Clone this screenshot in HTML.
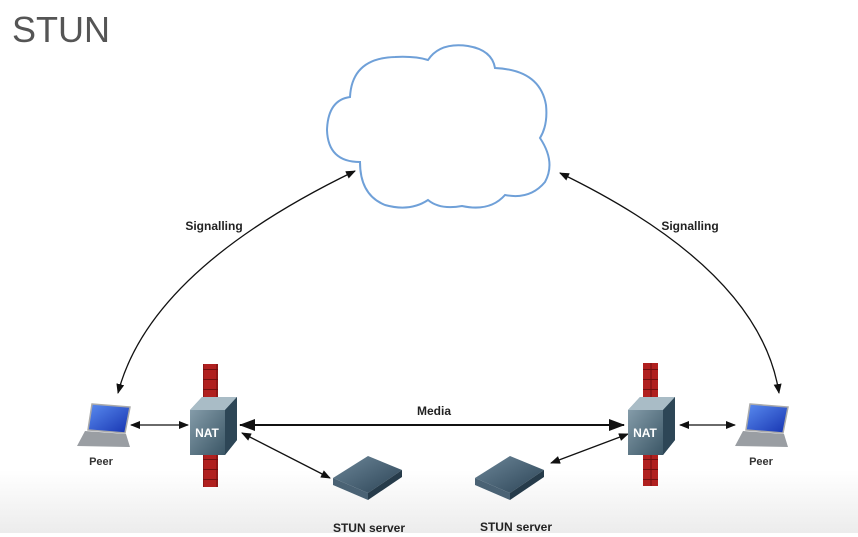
<!DOCTYPE html>
<html><head><meta charset="utf-8"><style>
html,body{margin:0;padding:0;background:#fff;}
body{width:858px;height:537px;overflow:hidden;position:relative;font-family:"Liberation Sans",sans-serif;}
</style></head><body>
<svg width="858" height="537" viewBox="0 0 858 537" xmlns="http://www.w3.org/2000/svg" style="position:absolute;left:0;top:0">
<defs>
<linearGradient id="bg" x1="0" y1="0" x2="0" y2="1">
<stop offset="0" stop-color="#fff"/><stop offset="1" stop-color="#ececec"/></linearGradient>
<linearGradient id="nat" x1="0" y1="0" x2="1" y2="1">
<stop offset="0" stop-color="#8fa6b3"/><stop offset="1" stop-color="#2e4a5a"/></linearGradient>
<linearGradient id="srv" x1="0" y1="0" x2="1" y2="1">
<stop offset="0" stop-color="#6d8799"/><stop offset="1" stop-color="#2c4456"/></linearGradient>
<linearGradient id="scr" x1="0" y1="0" x2="1" y2="1">
<stop offset="0" stop-color="#5a8cf0"/><stop offset="1" stop-color="#1633b0"/></linearGradient>
<pattern id="brick" width="14" height="10" patternUnits="userSpaceOnUse">
<rect width="14" height="10" fill="#b0201f"/>
<path d="M0 9.5H14M7 0V9.5" stroke="#6e1010" stroke-width="1"/></pattern>
<marker id="a" markerWidth="10" markerHeight="8" refX="9" refY="4" orient="auto-start-reverse" markerUnits="userSpaceOnUse">
<path d="M0 0L10 4L0 8z" fill="#111"/></marker>
<marker id="b" markerWidth="16" markerHeight="12" refX="15" refY="6" orient="auto-start-reverse" markerUnits="userSpaceOnUse">
<path d="M0 0L16 6L0 12z" fill="#111"/></marker>
</defs>
<rect x="0" y="470" width="858" height="63" fill="url(#bg)"/>
<text x="12" y="42" font-size="36" fill="#555" font-family="Liberation Sans, sans-serif">STUN</text>
<path d="M360,162 Q328,162 327,130 Q328,100 350,97 Q352,58 395,57 Q415,56 428,60 Q440,42 468,46 Q492,50 495,68 Q540,70 546,105 Q548,125 540,138 Q556,162 545,182 Q530,200 505,195 Q490,212 462,206 Q440,210 428,200 Q410,212 385,205 Q360,195 360,162 Z" fill="#fff" stroke="#6fa0d8" stroke-width="2"/>
<path d="M355,171 Q150,270 118,393" fill="none" stroke="#111" stroke-width="1.3" marker-start="url(#a)" marker-end="url(#a)"/>
<path d="M560,173 Q760,270 779,393" fill="none" stroke="#111" stroke-width="1.3" marker-start="url(#a)" marker-end="url(#a)"/>
<text x="214" y="230" font-size="12" font-weight="bold" text-anchor="middle" fill="#222">Signalling</text>
<text x="690" y="230" font-size="12" font-weight="bold" text-anchor="middle" fill="#222">Signalling</text>
<rect x="203" y="364" width="15" height="123" fill="url(#brick)"/>
<rect x="643" y="363" width="15" height="123" fill="url(#brick)"/>
<line x1="240" y1="425" x2="624" y2="425" stroke="#111" stroke-width="2" marker-start="url(#b)" marker-end="url(#b)"/>
<text x="434" y="415" font-size="12" font-weight="bold" text-anchor="middle" fill="#222">Media</text>
<line x1="131" y1="425" x2="188" y2="425" stroke="#111" stroke-width="1.3" marker-start="url(#a)" marker-end="url(#a)"/>
<line x1="680" y1="425" x2="735" y2="425" stroke="#111" stroke-width="1.3" marker-start="url(#a)" marker-end="url(#a)"/>
<line x1="242" y1="433" x2="330" y2="478" stroke="#111" stroke-width="1.3" marker-start="url(#a)" marker-end="url(#a)"/>
<line x1="551" y1="463" x2="628" y2="434" stroke="#111" stroke-width="1.3" marker-start="url(#a)" marker-end="url(#a)"/>
<g>
<path d="M190,410 L202,397 L237,397 L237,440 L225,455 L190,455 Z" fill="url(#nat)"/>
<path d="M190,410 L202,397 L237,397 L225,410 Z" fill="#a9bcc6"/>
<path d="M225,410 L237,397 L237,440 L225,455 Z" fill="#2d4656"/>
<text x="207" y="437" font-size="12" font-weight="bold" fill="#fff" text-anchor="middle">NAT</text>
</g>
<g transform="translate(438,0)">
<path d="M190,410 L202,397 L237,397 L237,440 L225,455 L190,455 Z" fill="url(#nat)"/>
<path d="M190,410 L202,397 L237,397 L225,410 Z" fill="#a9bcc6"/>
<path d="M225,410 L237,397 L237,440 L225,455 Z" fill="#2d4656"/>
<text x="207" y="437" font-size="12" font-weight="bold" fill="#fff" text-anchor="middle">NAT</text>
</g>
<g>
<path d="M92,404 L130,407 L125,433 L88,430 Z" fill="url(#scr)" stroke="#aaa" stroke-width="1.5"/>
<path d="M85,431 L126,434 L130,447 L77,446 Z" fill="#9a9ea3"/>
<text x="101" y="465" font-size="11" font-weight="bold" text-anchor="middle" fill="#333">Peer</text>
</g>
<g transform="translate(658,0)">
<path d="M92,404 L130,407 L125,433 L88,430 Z" fill="url(#scr)" stroke="#aaa" stroke-width="1.5"/>
<path d="M85,431 L126,434 L130,447 L77,446 Z" fill="#9a9ea3"/>
<text x="103" y="465" font-size="11" font-weight="bold" text-anchor="middle" fill="#333">Peer</text>
</g>
<g>
<path d="M333,478 L368,456 L402,470 L368,493 Z" fill="url(#srv)"/>
<path d="M333,478 L368,493 L368,500 L333,485 Z" fill="#4a6274"/>
<path d="M368,493 L402,470 L402,477 L368,500 Z" fill="#263b4a"/>
</g>
<g transform="translate(142,0)">
<path d="M333,478 L368,456 L402,470 L368,493 Z" fill="url(#srv)"/>
<path d="M333,478 L368,493 L368,500 L333,485 Z" fill="#4a6274"/>
<path d="M368,493 L402,470 L402,477 L368,500 Z" fill="#263b4a"/>
</g>
<text x="369" y="532" font-size="12" font-weight="bold" text-anchor="middle" fill="#222">STUN server</text>
<text x="516" y="531" font-size="12" font-weight="bold" text-anchor="middle" fill="#222">STUN server</text>
</svg>
</body></html>
